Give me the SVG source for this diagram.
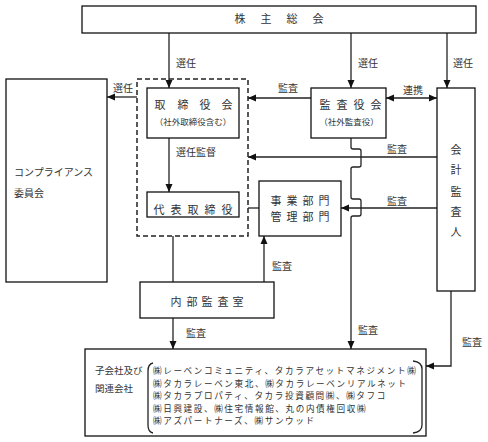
<svg xmlns="http://www.w3.org/2000/svg" width="488" height="442" viewBox="0 0 488 442">
<defs>
<marker id="ah" viewBox="0 0 8 8" refX="8" refY="4" markerWidth="8" markerHeight="8" markerUnits="userSpaceOnUse" orient="auto-start-reverse">
<path d="M0,0.5 L8,4 L0,7.5 z" fill="#111"/>
</marker>
<style>
.box{fill:#fff;stroke:#111;stroke-width:1.3}
.ln{fill:none;stroke:#222;stroke-width:1.3}
.ar{fill:none;stroke:#222;stroke-width:1.3;marker-end:url(#ah)}
text{font-family:"Noto Sans CJK JP","Noto Sans CJK SC",sans-serif;fill:#333}
.t{font-size:11px;text-anchor:middle}
.s{font-size:8.5px;text-anchor:middle}
.l{font-size:10px}
.b{font-size:8.6px;letter-spacing:1.6px}
</style>
</defs>
<rect width="488" height="442" fill="#fff"/>

<g id="connectors">
<path class="ar" d="M169,33 V88"/>
<path class="ar" d="M351,33 V88"/>
<path class="ar" d="M447,33 V88"/>
<path class="ar" d="M137,97 H107"/>
<path class="ar" d="M311,98 H248"/>
<path class="ar" d="M386,98 H437" style="marker-start:url(#ah)"/>
<path class="ar" d="M169,138 V192"/>
<path class="ar" d="M437,157 H248"/>
<path class="ar" d="M437,208 H341"/>
<path class="ln" d="M248,208 H259"/>
<path class="ln" d="M173,236 V282"/>
<path class="ar" d="M264,282 V236"/>
<path class="ar" d="M173,318 V349"/>
<path class="ar" d="M351,138 V147 Q351,149 353,149 H359 Q361,149 361,151 V165 Q361,167 359,167 H353 Q351,167 351,169 V197 Q351,199 353,199 H359 Q361,199 361,201 V214 Q361,216 359,216 H353 Q351,216 351,218 V349"/>
<path class="ar" d="M451,291 V366 H426"/>
<text class="l" x="176" y="67">選任</text>
<text class="l" x="358" y="67">選任</text>
<text class="l" x="453" y="67">選任</text>
<text class="l" x="113" y="92">選任</text>
<text class="l" x="278" y="92">監査</text>
<text class="l" x="403" y="94">連携</text>
<text class="l" x="176" y="156">選任監督</text>
<text class="l" x="387" y="153">監査</text>
<text class="l" x="387" y="205">監査</text>
<text class="l" x="272" y="270">監査</text>
<text class="l" x="186" y="337">監査</text>
<text class="l" x="358" y="334">監査</text>
<text class="l" x="462" y="346">監査</text>
</g>

<g id="shareholders">
<rect class="box" x="82" y="6" width="394" height="27"/>
<text class="t" x="240 266 292 318" y="23">株主総会</text>
</g>

<g id="compliance">
<rect class="box" x="6" y="79" width="101" height="203"/>
<text class="l" x="14" y="176">コンプライアンス</text>
<text class="l" x="14" y="197">委員会</text>
</g>

<g id="governance-group">
<rect x="137" y="79" width="111" height="157" fill="none" stroke="#222" stroke-width="1.5" stroke-dasharray="5,3"/>
</g>

<g id="board">
<rect class="box" x="147" y="88" width="92" height="50"/>
<text class="t" x="160 183 205 227" y="109">取締役会</text>
<text class="s" x="193" y="125">（社外取締役含む）</text>
</g>

<g id="representative">
<rect class="box" x="147" y="192" width="92" height="25"/>
<text class="t" x="159 176 193 210 227" y="214">代表取締役</text>
</g>

<g id="auditors">
<rect class="box" x="311" y="88" width="75" height="50"/>
<text class="t" x="325 342 359 376" y="109">監査役会</text>
<text class="s" x="349" y="125">（社外監査役）</text>
</g>

<g id="accounting-auditor">
<rect class="box" x="437" y="88" width="38" height="203"/>
<text class="t" x="456" y="154">会</text>
<text class="t" x="456" y="174">計</text>
<text class="t" x="456" y="196">監</text>
<text class="t" x="456" y="216">査</text>
<text class="t" x="456" y="236">人</text>
</g>

<g id="business">
<rect class="box" x="259" y="181" width="82" height="55"/>
<text class="t" x="276 292 308 324" y="205">事業部門</text>
<text class="t" x="276 292 308 324" y="221">管理部門</text>
</g>

<g id="internal-audit">
<rect class="box" x="140" y="282" width="134" height="36"/>
<text class="t" x="176 192 207 223 238" y="306">内部監査室</text>
</g>

<g id="subsidiaries">
<rect class="box" x="85" y="349" width="341" height="87"/>
<text class="l" x="95" y="374" style="font-size:9.5px">子会社及び</text>
<text class="l" x="95" y="392" style="font-size:9.5px">関連会社</text>
<path class="ln" d="M153,363 Q148,364 148,371 V425 Q148,432 153,433"/>
<path class="ln" d="M413,361 Q422,362 422,369 V425 Q422,432 413,433"/>
<text class="b" x="153" y="374">㈱レーベンコミュニティ、タカラアセットマネジメント㈱</text>
<text class="b" x="153" y="386.5">㈱タカラレーベン東北、㈱タカラレーベンリアルネット</text>
<text class="b" x="153" y="399">㈱タカラプロパティ、タカラ投資顧問㈱、㈱タフコ</text>
<text class="b" x="153" y="411.5">㈱日興建設、㈱住宅情報館、丸の内債権回収㈱</text>
<text class="b" x="153" y="424">㈱アズパートナーズ、㈱サンウッド</text>
</g>
</svg>
